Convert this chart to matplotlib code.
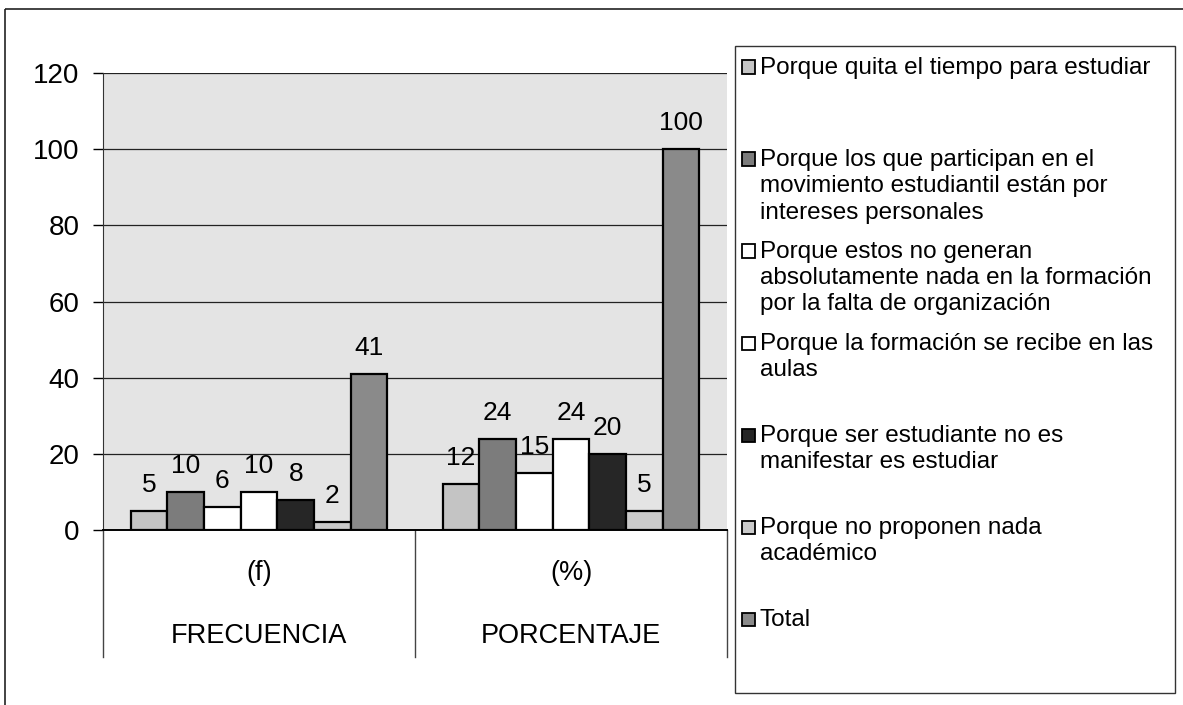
import matplotlib.pyplot as plt
import matplotlib.transforms as mtransforms
from matplotlib.patches import Rectangle
import numpy as np

plt.rcParams['font.family'] = ['Liberation Sans', 'DejaVu Sans']

# data
groups = ['(f)', '(%)']
group_titles = ['FRECUENCIA', 'PORCENTAJE']
series = [
    'Porque quita el tiempo para estudiar',
    'Porque los que participan en el\nmovimiento estudiantil están por\nintereses personales',
    'Porque estos no generan\nabsolutamente nada en la formación\npor la falta de organización',
    'Porque la formación se recibe en las\naulas',
    'Porque ser estudiante no es\nmanifestar es estudiar',
    'Porque no proponen nada\nacadémico',
    'Total',
]
frecuencia = [5, 10, 6, 10, 8, 2, 41]
porcentaje = [12, 24, 15, 24, 20, 5, 100]
colors = ['#c4c4c4', '#7c7c7c', '#ffffff', '#ffffff', '#262626', '#cacaca', '#8a8a8a']

W, H = 1183, 705
fig = plt.figure(figsize=(W / 100, H / 100), dpi=100)

def px(x, y):
    return x / W, 1 - y / H

# outer frame (cut by the picture edges)
fig.patches.append(Rectangle(px(5, 9), 1.2, -1.2, transform=fig.transFigure,
                             fill=False, edgecolor='#222222', linewidth=1.2))

left, top, right, bottom = 103, 73, 727, 530
ax = fig.add_axes([left / W, 1 - bottom / H, (right - left) / W, (bottom - top) / H])
ax.set_facecolor('#e4e4e4')

values = np.array([frecuencia, porcentaje])
n = len(series)
bw = 1 / (n + 1.5)
x = np.arange(len(groups))
for i in range(n):
    pos = x - (n / 2) * bw + (i + 0.5) * bw
    ax.bar(pos, values[:, i], width=bw, color=colors[i],
           edgecolor='black', linewidth=1.6, zorder=3)
    for xi, v in zip(pos, values[:, i]):
        ax.annotate(str(v), (xi, v), xytext=(0, 10), textcoords='offset points',
                    ha='center', va='bottom', fontsize=19, zorder=4)

ax.set_xlim(-0.5, 1.5)
ax.set_ylim(0, 120)
ax.set_yticks(range(0, 121, 20))
ax.tick_params(axis='y', labelsize=20, length=7, width=1, pad=10, direction='out')
ax.set_xticks([])
ax.yaxis.grid(True, color='#222222', linewidth=0.9)
ax.set_axisbelow(True)
for s in ['top', 'right']:
    ax.spines[s].set_visible(False)
ax.spines['left'].set_color('#333333')
ax.spines['bottom'].set_linewidth(1.4)

# category axis (two levels) below the plot
trans = mtransforms.blended_transform_factory(ax.transData, ax.transAxes)
sep_bottom = -(657 - bottom) / (bottom - top)
for xs in [-0.5, 0.5, 1.5]:
    ax.plot([xs, xs], [0, sep_bottom], transform=trans, color='#444444',
            linewidth=1, clip_on=False)
for xi, g, t in zip(x, groups, group_titles):
    ax.text(xi, -(573 - bottom) / (bottom - top), g, transform=trans,
            ha='center', va='center', fontsize=19.5)
    ax.text(xi, -(636 - bottom) / (bottom - top), t, transform=trans,
            ha='center', va='center', fontsize=19.5)

# legend box drawn by hand to follow the original spacing
fig.patches.append(Rectangle(px(735, 693), (1175 - 735) / W, (693 - 46) / H,
                             transform=fig.transFigure, fill=False,
                             edgecolor='#333333', linewidth=1))
first_lines = [67, 159, 251, 343, 435, 527, 619]
for label, yc, c in zip(series, first_lines, colors):
    fig.patches.append(Rectangle(px(742, yc + 6.5), 13 / W, 13 / H,
                                 transform=fig.transFigure, facecolor=c,
                                 edgecolor='black', linewidth=1.3))
    fig.text(*px(760, yc - 10), label, ha='left', va='top', fontsize=17.5,
             linespacing=1.25)

fig.savefig('out.png', dpi=100)
